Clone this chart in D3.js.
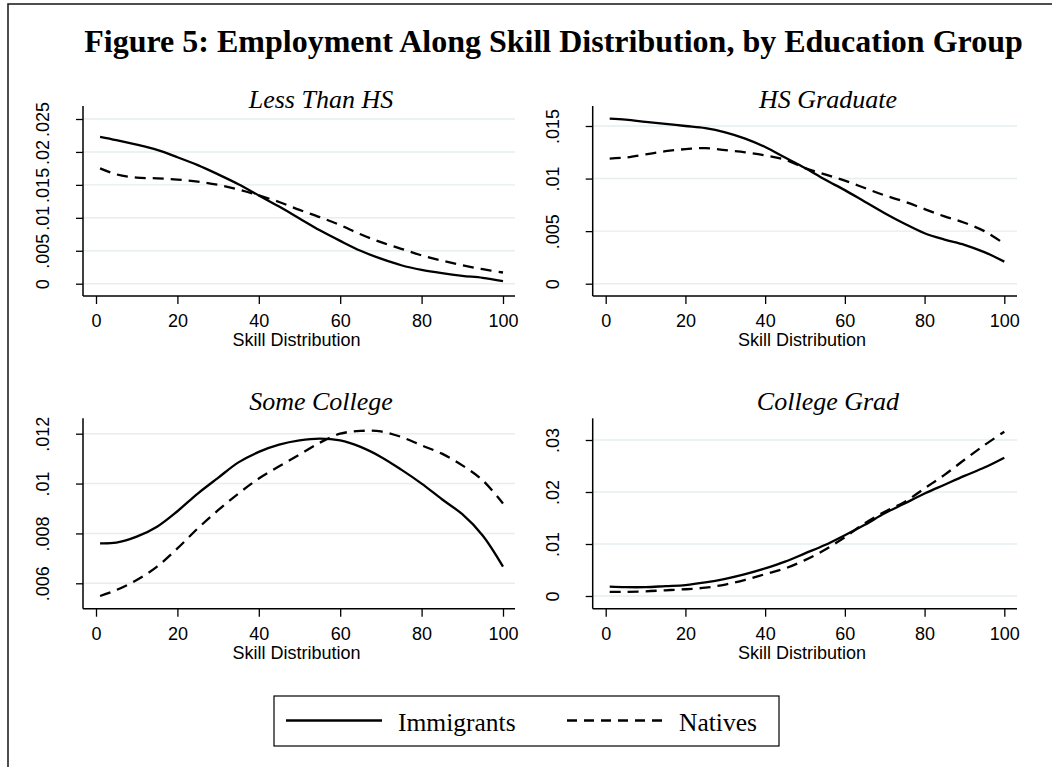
<!DOCTYPE html>
<html>
<head>
<meta charset="utf-8">
<script src="https://cdn.jsdelivr.net/npm/d3@7"></script>
<style>
  html, body { margin: 0; padding: 0; background: #fff; }
  svg { display: block; }
</style>
</head>
<body>
<svg id="chart" width="1052" height="767"></svg>
<script>
// ---------------- DATA ----------------
const chartTitle = "Figure 5: Employment Along Skill Distribution, by Education Group";
const xLabel = "Skill Distribution";
const seriesNames = ["Immigrants", "Natives"];
const panelTitles = ["Less Than HS", "HS Graduate", "Some College", "College Grad"];

const xTicks = [0, 20, 40, 60, 80, 100];
const skill = [1, 5, 10, 15, 20, 25, 30, 35, 40, 45, 50, 55, 60, 65, 70, 75, 80, 85, 90, 95, 100];

const yTicksLessHS   = [0, 0.005, 0.01, 0.015, 0.02, 0.025];
const yTicksHSGrad   = [0, 0.005, 0.01, 0.015];
const yTicksSomeCol  = [0.006, 0.008, 0.01, 0.012];
const yTicksColGrad  = [0, 0.01, 0.02, 0.03];

const immLessHS = [0.0223, 0.0218, 0.0211, 0.0203, 0.0192, 0.0180, 0.0166, 0.0151, 0.0134, 0.0117, 0.0099, 0.0081, 0.0065, 0.0050, 0.0038, 0.0028, 0.0021, 0.0016, 0.0012, 0.0009, 0.0004];
const natLessHS = [0.0175, 0.0166, 0.0161, 0.0160, 0.0158, 0.0155, 0.0150, 0.0143, 0.0134, 0.0124, 0.0112, 0.0101, 0.0089, 0.0075, 0.0063, 0.0053, 0.0043, 0.0035, 0.0028, 0.0022, 0.0017];

const immHSGrad = [0.0157, 0.0156, 0.0154, 0.0152, 0.0150, 0.0148, 0.0144, 0.0138, 0.0130, 0.0120, 0.0110, 0.0099, 0.0089, 0.0078, 0.0067, 0.0057, 0.0048, 0.0042, 0.0037, 0.0030, 0.0021];
const natHSGrad = [0.0119, 0.0120, 0.0123, 0.0126, 0.0128, 0.0129, 0.0127, 0.0125, 0.0122, 0.0118, 0.0110, 0.0104, 0.0098, 0.0091, 0.0084, 0.0078, 0.0071, 0.0064, 0.0058, 0.0050, 0.0038];

const immSomeCol = [0.00760, 0.00763, 0.00787, 0.00827, 0.00889, 0.00960, 0.01023, 0.01085, 0.01127, 0.01156, 0.01173, 0.01180, 0.01173, 0.01147, 0.01107, 0.01056, 0.01000, 0.00937, 0.00877, 0.00792, 0.00667];
const natSomeCol = [0.00549, 0.00573, 0.00613, 0.00667, 0.00740, 0.00820, 0.00893, 0.00960, 0.01020, 0.01069, 0.01116, 0.01164, 0.01200, 0.01211, 0.01209, 0.01187, 0.01153, 0.01120, 0.01073, 0.01013, 0.00920];

const immColGrad = [0.0018, 0.0017, 0.0017, 0.0019, 0.0021, 0.0026, 0.0033, 0.0042, 0.0053, 0.0066, 0.0082, 0.0098, 0.0117, 0.0137, 0.0159, 0.0178, 0.0197, 0.0214, 0.0231, 0.0247, 0.0266];
const natColGrad = [0.0008, 0.0008, 0.0009, 0.0011, 0.0013, 0.0016, 0.0022, 0.0031, 0.0042, 0.0053, 0.0069, 0.0089, 0.0113, 0.0140, 0.0162, 0.0181, 0.0207, 0.0233, 0.0262, 0.0290, 0.0316];

// ---------------- LAYOUT ----------------
const panels = [
  { title: panelTitles[0], ticks: yTicksLessHS,  imm: immLessHS,  nat: natLessHS,
    axisX: 83,  right: 515,  top: 106, bottom: 296, x0: 96,  x1: 503,
    yDom: [0, 0.025], yRng: [283.7, 119], titleX: 321, titleY: 108 },
  { title: panelTitles[1], ticks: yTicksHSGrad,  imm: immHSGrad,  nat: natHSGrad,
    axisX: 592.7, right: 1017, top: 106, bottom: 296, x0: 605.7, x1: 1004.3,
    yDom: [0, 0.015], yRng: [283.7, 126], titleX: 828, titleY: 108 },
  { title: panelTitles[2], ticks: yTicksSomeCol, imm: immSomeCol, nat: natSomeCol,
    axisX: 83,  right: 515,  top: 418.3, bottom: 608.7, x0: 96, x1: 503,
    yDom: [0.006, 0.012], yRng: [583.3, 433.7], titleX: 321, titleY: 410 },
  { title: panelTitles[3], ticks: yTicksColGrad, imm: immColGrad, nat: natColGrad,
    axisX: 592.7, right: 1017, top: 418.3, bottom: 608.7, x0: 605.7, x1: 1004.3,
    yDom: [0, 0.03], yRng: [596, 440], titleX: 828, titleY: 410 }
];

const svg = d3.select("#chart");
const sansFont = "'Liberation Sans', Arial, sans-serif";
const serifFont = "'Liberation Serif', 'Times New Roman', serif";
const gridColor = "#e6eef0";
const dash = "11,7";

// outer frame
svg.append("rect")
  .attr("x", 8).attr("y", 4).attr("width", 1100).attr("height", 800)
  .attr("fill", "none").attr("stroke", "#222").attr("stroke-width", 1.6);

// main title
svg.append("text")
  .attr("x", 553.5).attr("y", 52)
  .attr("text-anchor", "middle")
  .attr("font-family", serifFont).attr("font-weight", "bold")
  .attr("font-size", 32)
  .attr("fill", "#000")
  .text(chartTitle);

const fmt = v => v === 0 ? "0" : String(+v.toPrecision(3)).replace(/^0\./, ".");

panels.forEach(p => {
  const g = svg.append("g");
  const x = d3.scaleLinear().domain([0, 100]).range([p.x0, p.x1]);
  const y = d3.scaleLinear().domain(p.yDom).range(p.yRng);

  // gridlines
  g.selectAll("line.grid").data(p.ticks).enter().append("line")
    .attr("class", "grid")
    .attr("x1", p.axisX).attr("x2", p.right)
    .attr("y1", d => y(d)).attr("y2", d => y(d))
    .attr("stroke", gridColor).attr("stroke-width", 1.4);

  // x axis
  const xAxis = d3.axisBottom(x).tickValues(xTicks).tickSize(8).tickPadding(4).tickFormat(d3.format("d"));
  const gx = g.append("g").attr("transform", `translate(0,${p.bottom})`).call(xAxis);
  gx.select(".domain").remove();
  gx.selectAll(".tick line").attr("stroke", "#000").attr("stroke-width", 1.3);
  gx.selectAll(".tick text").attr("font-family", sansFont).attr("font-size", 18).attr("fill", "#000")
    .attr("dy", null).attr("y", 31);
  g.append("line")
    .attr("x1", p.axisX).attr("x2", p.right)
    .attr("y1", p.bottom).attr("y2", p.bottom)
    .attr("stroke", "#000").attr("stroke-width", 1.5);

  // y axis
  const yAxis = d3.axisLeft(y).tickValues(p.ticks).tickSize(7).tickFormat(fmt);
  const gy = g.append("g").attr("transform", `translate(${p.axisX},0)`).call(yAxis);
  gy.select(".domain").remove();
  gy.selectAll(".tick line").attr("stroke", "#000").attr("stroke-width", 1.3);
  gy.selectAll(".tick text")
    .attr("font-family", sansFont).attr("font-size", 18).attr("fill", "#000")
    .attr("x", null).attr("dy", null)
    .attr("text-anchor", "middle")
    .attr("transform", "translate(-34,0) rotate(-90)");
  g.append("line")
    .attr("x1", p.axisX).attr("x2", p.axisX)
    .attr("y1", p.top).attr("y2", p.bottom)
    .attr("stroke", "#000").attr("stroke-width", 1.5);

  // axis title
  g.append("text")
    .attr("x", (p.x0 + p.x1) / 2 - 3).attr("y", p.bottom + 50)
    .attr("text-anchor", "middle")
    .attr("font-family", sansFont).attr("font-size", 18).attr("fill", "#000")
    .text(xLabel);

  // panel title
  g.append("text")
    .attr("x", p.titleX).attr("y", p.titleY)
    .attr("text-anchor", "middle")
    .attr("font-family", serifFont).attr("font-style", "italic")
    .attr("font-size", 26).attr("fill", "#000")
    .text(p.title);

  const line = d3.line()
    .x((d, i) => x(skill[i]))
    .y(d => y(d))
    .curve(d3.curveCatmullRom.alpha(0.5));

  g.append("path").datum(p.nat)
    .attr("d", line).attr("fill", "none")
    .attr("stroke", "#000").attr("stroke-width", 2.3)
    .attr("stroke-dasharray", dash);
  g.append("path").datum(p.imm)
    .attr("d", line).attr("fill", "none")
    .attr("stroke", "#000").attr("stroke-width", 2.3);
});

// legend
const lg = svg.append("g");
lg.append("rect")
  .attr("x", 274).attr("y", 696).attr("width", 505).attr("height", 50)
  .attr("fill", "#fff").attr("stroke", "#000").attr("stroke-width", 1.2);
lg.append("line")
  .attr("x1", 286).attr("x2", 382).attr("y1", 720.5).attr("y2", 720.5)
  .attr("stroke", "#000").attr("stroke-width", 2.3);
lg.append("text")
  .attr("x", 398).attr("y", 731)
  .attr("font-family", serifFont).attr("font-size", 25.5).attr("fill", "#000")
  .text(seriesNames[0]);
lg.append("line")
  .attr("x1", 567).attr("x2", 662).attr("y1", 720.5).attr("y2", 720.5)
  .attr("stroke", "#000").attr("stroke-width", 2.3)
  .attr("stroke-dasharray", "10,7");
lg.append("text")
  .attr("x", 679).attr("y", 731)
  .attr("font-family", serifFont).attr("font-size", 25.5).attr("fill", "#000")
  .text(seriesNames[1]);
</script>
</body>
</html>
